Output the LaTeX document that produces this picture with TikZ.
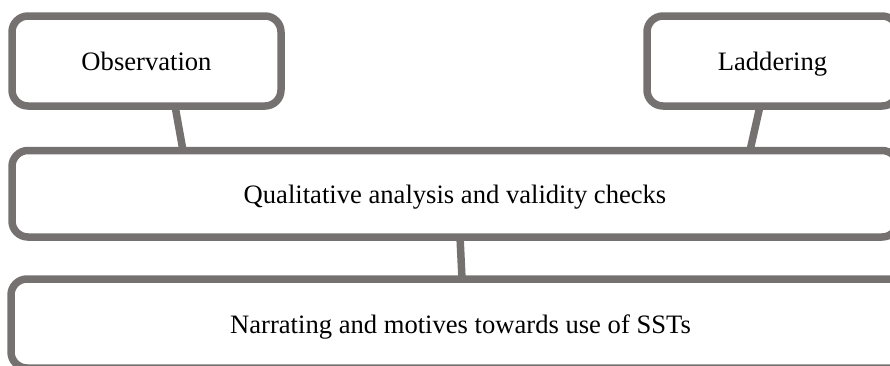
\documentclass[tikz,border=0pt]{standalone}
\usepackage{fontspec}
\setmainfont{Liberation Serif}
\usetikzlibrary{calc}
\definecolor{boxgray}{RGB}{118,113,113}
\begin{document}
\begin{tikzpicture}[x=1pt,y=-1pt,
  box/.style={draw=boxgray, line width=7.5pt, rounded corners=16pt, fill=white,
    inner sep=0pt, outer sep=0pt, text height=19.5pt, text depth=0pt,
    font=\fontsize{26.6}{30}\selectfont, anchor=center},
  link/.style={draw=boxgray, line width=7.5pt}]
\useasboundingbox (0,0) rectangle (890,365);
\node[box, minimum width=269pt, minimum height=90pt] (obs) at (146.5,61) {Observation};
\node[box, minimum width=251pt, minimum height=90pt] (lad) at (772.5,61) {Laddering};
\node[box, minimum width=886pt, minimum height=86.5pt] (qual) at (455,193.75) {Qualitative analysis and validity checks};
\node[box, minimum width=899pt, minimum height=89pt] (narr) at (460.5,323.5) {Narrating and motives towards use of SSTs};
\draw[link] ($(obs.south west)+(163,0)$) -- ($(qual.north west)+(171,0)$);
\draw[link] ($(lad.south west)+(113,0)$) -- ($(qual.north west)+(738,0)$);
\draw[link] ($(qual.south west)+(448,0)$) -- ($(narr.north west)+(451,0)$);
\end{tikzpicture}
\end{document}
